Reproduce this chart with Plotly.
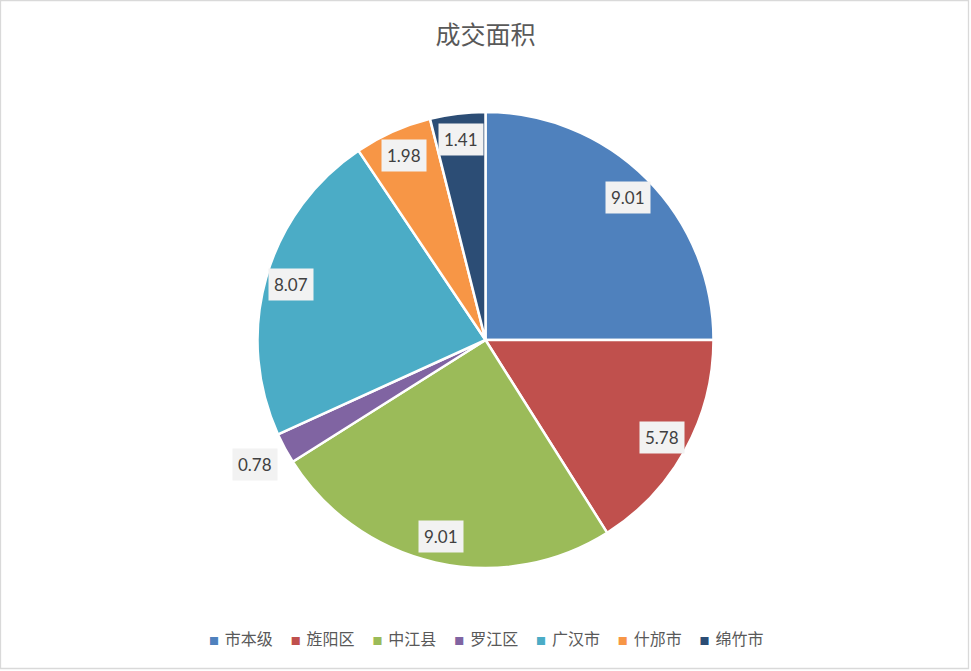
import numpy as np
import plotly.graph_objects as go

# data
regions = ['市本级', '旌阳区', '中江县', '罗江区', '广汉市', '什邡市', '绵竹市']
area = [9.01, 5.78, 9.01, 0.78, 8.07, 1.98, 1.41]
colors = ['#4F81BD', '#C0504D', '#9BBB59', '#8064A2', '#4BACC6', '#F79646', '#2C4D75']
label_text = ['9.01', '5.78', '9.01', '0.78', '8.07', '1.98', '1.41']
label_outside = [False, False, False, True, False, False, False]

W, H = 971, 671
M_T, M_B = 112, 103
plot_h = H - M_T - M_B
radius = plot_h / 2.0
cx, cy = W / 2.0, M_T + radius

fig = go.Figure()
fig.add_trace(go.Pie(
    labels=regions,
    values=area,
    sort=False,
    direction='clockwise',
    rotation=0,
    marker={'colors': colors, 'line': {'color': 'white', 'width': 2.5}},
    textinfo='none',
    hoverinfo='label+value',
    domain={'x': [0, 1], 'y': [0, 1]},
))

# data labels in grey boxes, placed from slice mid-angles
vals = np.array(area)
cum = np.cumsum(vals) - vals / 2.0
mid = cum / vals.sum() * 2 * np.pi
for ang, txt, out in zip(mid, label_text, label_outside):
    r = radius * (1.15 if out else 0.885)
    px = cx + r * np.sin(ang)
    py = cy - r * np.cos(ang)
    fig.add_annotation(
        x=px / W, y=(H - M_B - py) / plot_h,
        xref='paper', yref='paper',
        xanchor='center', yanchor='middle',
        text=txt, showarrow=False,
        font={'family': 'Lato, Noto Sans', 'size': 17, 'color': '#404040'},
        bgcolor='#F2F2F2', borderpad=5,
    )

# legend drawn as one text line (small squares close to the names)
gap = '&nbsp;' * 5
legend_parts = []
for name, c in zip(regions, colors):
    legend_parts.append(
        f'<span style="color:{c};font-size:10px">■&nbsp;</span>&nbsp;{name}'
    )
fig.add_annotation(
    x=0.5, y=-(638 - (H - M_B)) / plot_h,
    xref='paper', yref='paper', xanchor='center', yanchor='middle',
    text=gap.join(legend_parts), showarrow=False,
    font={'family': 'Noto Sans CJK SC', 'size': 16, 'color': '#595959'},
)

# outer chart border
fig.add_shape(
    type='rect', xref='paper', yref='paper',
    x0=0.5 / W, x1=968.5 / W,
    y0=(H - M_B - 668.5) / plot_h, y1=(H - M_B - 0.5) / plot_h,
    line={'color': '#D9D9D9', 'width': 1.3},
)

fig.update_layout(
    width=W, height=H,
    margin={'l': 0, 'r': 0, 't': M_T, 'b': M_B},
    paper_bgcolor='white',
    plot_bgcolor='white',
    title={
        'text': '成交面积',
        'x': 0.5, 'xanchor': 'center',
        'y': 1 - 35 / H, 'yanchor': 'middle',
        'font': {'family': 'Noto Sans CJK SC', 'size': 25, 'color': '#595959'},
    },
    showlegend=False,
)

fig.write_html(
    "out.html",
    config={'displayModeBar': False},
    post_script="document.body.style.margin='0';document.body.style.overflow='hidden';",
)
